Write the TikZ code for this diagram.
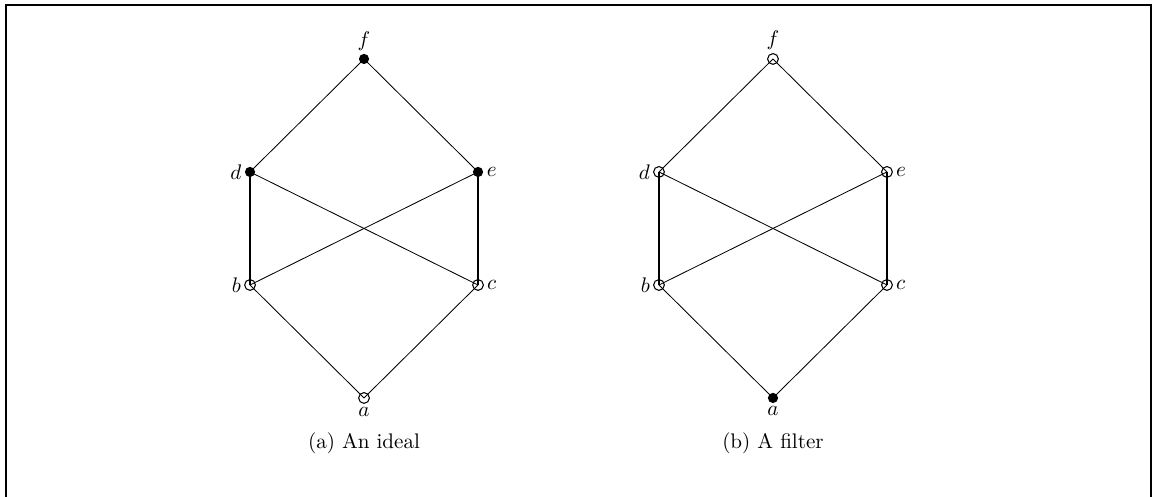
\documentclass[tikz,border=0pt]{standalone}
\begin{document}
\begin{tikzpicture}[
  full/.style={circle,fill=black,inner sep=0pt,minimum size=0.17cm},
  hollow/.style={circle,draw,line width=0.5pt,inner sep=0pt,minimum size=0.18cm},
  covers/.style={thin},
  chain/.style={line width=0.9pt},
  label distance=-2pt]
\useasboundingbox (0,0) rectangle (19.217,8.283);
\draw[line width=0.9pt] (0.1,-1)--(0.1,8.2)--(19.183,8.2)--(19.183,-1); %frame

% (a) an ideal
\node[full,label=above:$f$] (fA) at (6.067,7.3) {};
\node[full,label=left:$d$] (dA) at (4.167,5.417) {};
\node[full,label=right:$e$] (eA) at (7.967,5.417) {};
\node[hollow,label=left:$b$] (bA) at (4.167,3.533) {};
\node[hollow,label=right:$c$] (cA) at (7.967,3.533) {};
\node[hollow,label=below:$a$] (aA) at (6.067,1.65) {};
\draw[covers] (fA.center)--(dA.center);
\draw[covers] (fA.center)--(eA.center);
\draw[covers] (dA.center)--(cA.center);
\draw[covers] (eA.center)--(bA.center);
\draw[chain] (dA.center)--(bA.center);
\draw[chain] (eA.center)--(cA.center);
\draw[covers] (bA.center)--(aA.center);
\draw[covers] (cA.center)--(aA.center);
\node (capA) at (6.067,0.9) {(a) An ideal};

% (b) a filter
\node[hollow,label=above:$f$] (fB) at (12.883,7.3) {};
\node[hollow,label=left:$d$] (dB) at (10.983,5.417) {};
\node[hollow,label=right:$e$] (eB) at (14.783,5.417) {};
\node[hollow,label=left:$b$] (bB) at (10.983,3.533) {};
\node[hollow,label=right:$c$] (cB) at (14.783,3.533) {};
\node[full,label=below:$a$] (aB) at (12.883,1.65) {};
\draw[covers] (fB.center)--(dB.center);
\draw[covers] (fB.center)--(eB.center);
\draw[covers] (dB.center)--(cB.center);
\draw[covers] (eB.center)--(bB.center);
\draw[chain] (dB.center)--(bB.center);
\draw[chain] (eB.center)--(cB.center);
\draw[covers] (bB.center)--(aB.center);
\draw[covers] (cB.center)--(aB.center);
\node (capB) at (12.883,0.9) {(b) A filter};
\end{tikzpicture}
\end{document}
